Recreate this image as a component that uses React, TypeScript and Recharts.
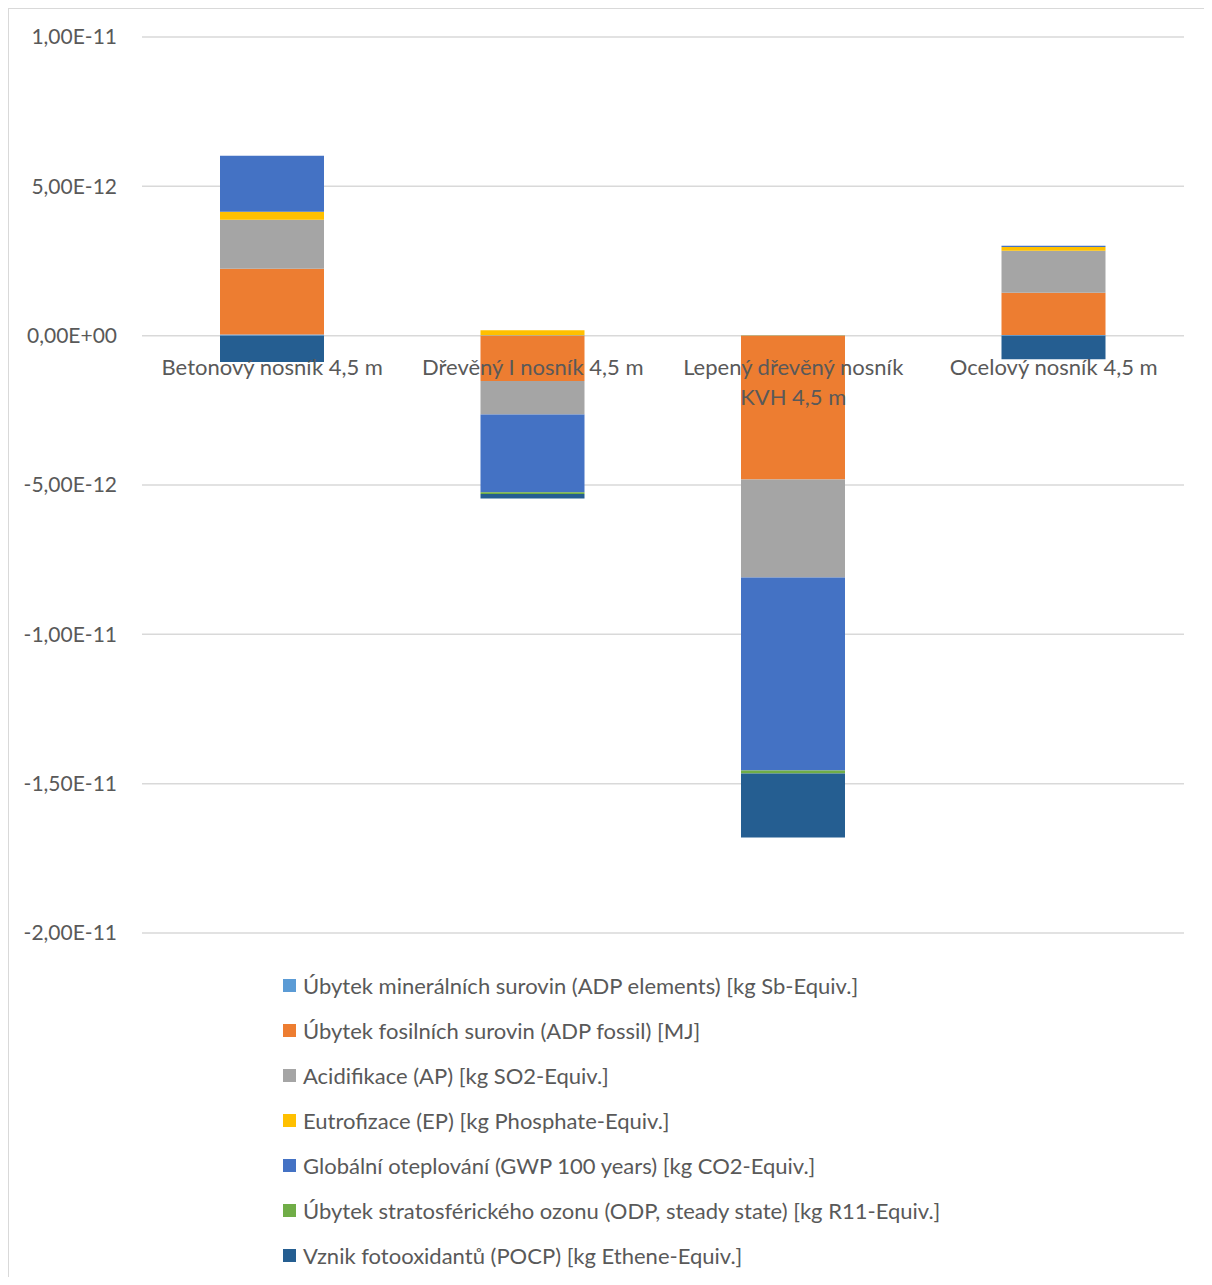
import React from "react";
import { BarChart, Bar, XAxis, YAxis, CartesianGrid, Legend, ReferenceDot } from "recharts";

const categories = ["Betonový nosník 4,5 m", "Dřevěný I nosník 4,5 m", "Lepený dřevěný nosník KVH 4,5 m", "Ocelový nosník 4,5 m"];
const categoryLines = [["Betonový nosník 4,5 m"], ["Dřevěný I nosník 4,5 m"], ["Lepený dřevěný nosník", "KVH 4,5 m"], ["Ocelový nosník 4,5 m"]];

const adpElements = [0.04e-12, 0.01e-12, 0.01e-12, 0.02e-12];
const adpFossil = [2.2e-12, -1.52e-12, -4.82e-12, 1.42e-12];
const acidification = [1.64e-12, -1.12e-12, -3.28e-12, 1.4e-12];
const eutrophication = [0.27e-12, 0.17e-12, 0.01e-12, 0.13e-12];
const gwp = [1.87e-12, -2.6e-12, -6.46e-12, 0.04e-12];
const odp = [0.0, -0.06e-12, -0.1e-12, 0.0];
const pocp = [-0.88e-12, -0.15e-12, -2.14e-12, -0.79e-12];

const yTicks = [-2e-11, -1.5e-11, -1e-11, -5e-12, 0, 5e-12, 1e-11];

const series = [
  { key: "adpElements", name: "Úbytek minerálních surovin (ADP elements) [kg Sb-Equiv.]", color: "#5B9BD5", values: adpElements },
  { key: "adpFossil", name: "Úbytek fosilních surovin (ADP fossil) [MJ]", color: "#ED7D31", values: adpFossil },
  { key: "ap", name: "Acidifikace (AP) [kg SO2-Equiv.]", color: "#A5A5A5", values: acidification },
  { key: "ep", name: "Eutrofizace (EP) [kg Phosphate-Equiv.]", color: "#FFC000", values: eutrophication },
  { key: "gwp", name: "Globální oteplování (GWP 100 years) [kg CO2-Equiv.]", color: "#4472C4", values: gwp },
  { key: "odp", name: "Úbytek stratosférického ozonu (ODP, steady state) [kg R11-Equiv.]", color: "#70AD47", values: odp },
  { key: "pocp", name: "Vznik fotooxidantů (POCP) [kg Ethene-Equiv.]", color: "#255E91", values: pocp },
];

const data = categories.map((c, i) => {
  const row: Record<string, any> = { name: c };
  series.forEach((s) => (row[s.key] = s.values[i]));
  return row;
});

const FONT = "Lato, sans-serif";
const TEXT = "#595959";

// Excel-style number format: 1,00E-11
const fmt = (v: number) => {
  const [m, e] = v.toExponential(2).split("e");
  const sign = e[0] === "-" ? "-" : "+";
  const digits = e.replace(/[+-]/, "").padStart(2, "0");
  return m.replace(".", ",") + "E" + sign + digits;
};

const catLabel = (lines: string[]) => (props: any) => {
  const vb = props.viewBox || {};
  const cx = vb.x + (vb.width || 0) / 2;
  const cy = vb.y + (vb.height || 0) / 2;
  return (
    <text x={cx} y={cy + 39} textAnchor="middle" fill={TEXT} fontSize={22} fontFamily={FONT}>
      {lines.map((l, i) => (
        <tspan key={i} x={cx} dy={i === 0 ? 0 : 30}>
          {l}
        </tspan>
      ))}
    </text>
  );
};

const LegendBox = () => (
  <div style={{ paddingTop: 29.5, paddingLeft: 274, fontFamily: FONT, fontSize: 22, color: TEXT }}>
    {series.map((s) => (
      <div key={s.key} style={{ height: 45, display: "flex", alignItems: "center", whiteSpace: "nowrap" }}>
        <span style={{ width: 13, height: 13, background: s.color, display: "inline-block", marginRight: 7 }} />
        <span>{s.name}</span>
      </div>
    ))}
  </div>
);

export default function App() {
  return (
    <div
      style={{
        width: 1204,
        height: 1269,
        boxSizing: "border-box",
        borderTop: "1px solid #d9d9d9",
        borderLeft: "1px solid #d9d9d9",
        background: "#fff",
        overflow: "hidden",
      }}
    >
      <BarChart
        width={1212}
        height={1276}
        data={data}
        stackOffset="sign"
        margin={{ top: 28, right: 37, bottom: 7.5, left: 23 }}
      >
        <CartesianGrid vertical={false} stroke="#d9d9d9" strokeWidth={1.5} />
        <XAxis dataKey="name" hide />
        <YAxis
          width={110}
          domain={[-2e-11, 1e-11]}
          ticks={yTicks}
          tickFormatter={fmt}
          axisLine={false}
          tickLine={false}
          tickMargin={19}
          tick={{ fill: TEXT, fontSize: 21, fontFamily: FONT }}
        />
        {series.map((s) => (
          <Bar key={s.key} dataKey={s.key} name={s.name} stackId="a" fill={s.color} barSize={104} isAnimationActive={false} />
        ))}
        {categories.map((c, i) => (
          <ReferenceDot key={c} x={c} y={0} r={0} fill="none" stroke="none" label={{ content: catLabel(categoryLines[i]) }} />
        ))}
        <Legend
          layout="vertical"
          verticalAlign="bottom"
          align="center"
          wrapperStyle={{ left: 0, width: 1212 }}
          content={() => <LegendBox />}
        />
      </BarChart>
    </div>
  );
}
